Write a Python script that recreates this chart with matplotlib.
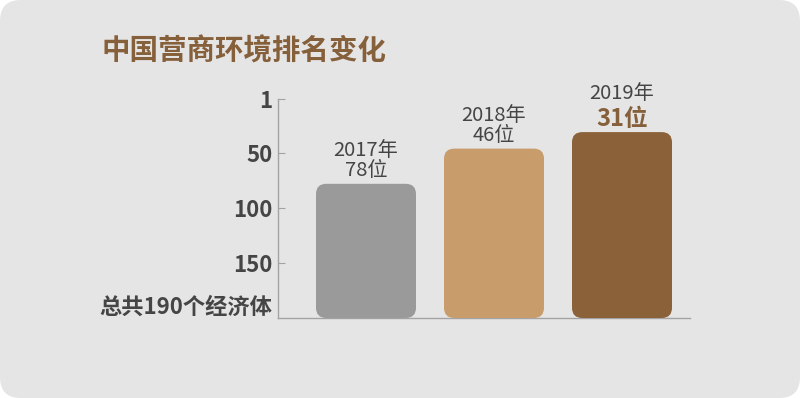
import matplotlib
matplotlib.use("Agg")
import matplotlib.pyplot as plt
from matplotlib.patches import FancyBboxPatch

plt.rcParams['font.family'] = ['Noto Sans CJK SC', 'DejaVu Sans']

# data
years = ["2017年", "2018年", "2019年"]
ranks = [78, 46, 31]
rank_labels = ["78位", "46位", "31位"]
total = 200  # axis bottom (labelled as 190 economies)
yticks = [1, 50, 100, 150]
ytick_labels = ["1", "50", "100", "150"]
bottom_label = "总共190个经济体"
title = "中国营商环境排名变化"

bar_colors = ["#9a9a9a", "#c89c6b", "#8a6138"]
bg = "#e6e5e6"
brown = "#85603a"
text_gray = "#454545"


def draw_bars(ax):
    bar_w = 100 / 128
    # pixels per data unit: x 128, y 1.1
    aspect = (1 / 1.1) / (1 / 128)
    for i, (r, c) in enumerate(zip(ranks, bar_colors)):
        box = FancyBboxPatch((i - bar_w / 2, r), bar_w, total - r,
                             boxstyle="round,pad=0,rounding_size=0.08",
                             mutation_aspect=aspect,
                             facecolor=c, edgecolor="none", zorder=3)
        ax.add_patch(box)


def main():
    fig = plt.figure(figsize=(8, 3.98), dpi=100)
    fig.patch.set_facecolor("white")
    bgbox = FancyBboxPatch((0.0, 0.0), 1.0, 1.0,
                           boxstyle="round,pad=0,rounding_size=0.026",
                           mutation_aspect=800 / 398,
                           transform=fig.transFigure,
                           facecolor=bg, edgecolor="none", zorder=-5)
    fig.patches.append(bgbox)

    ax = fig.add_axes([278 / 800, 80 / 398, 412 / 800, 258 / 398])
    ax.set_facecolor("none")
    ax.set_xlim(-88 / 128, 2 + 68 / 128)
    ax.set_ylim(total, total - 258 / 1.1)

    draw_bars(ax)

    for s in ("top", "right"):
        ax.spines[s].set_visible(False)
    ax.spines["left"].set_bounds(1, total)
    for s in ("left", "bottom"):
        ax.spines[s].set_color("#a3a3a3")
        ax.spines[s].set_linewidth(1.0)

    ax.set_xticks([])
    ax.set_yticks(yticks)
    ax.set_yticklabels(ytick_labels, fontsize=16, fontweight="bold",
                       color=text_gray)
    ax.tick_params(axis="y", direction="in", length=5, width=0.8,
                   color="#a3a3a3", pad=4)

    ax.annotate(bottom_label, xy=(0, total), xycoords=("axes fraction", "data"),
                xytext=(-4, 8), textcoords="offset points",
                ha="right", va="center", fontsize=16, fontweight="bold",
                color=text_gray)

    for i, (yr, r, lab) in enumerate(zip(years, ranks, rank_labels)):
        if i < len(ranks) - 1:
            ax.annotate(yr + "\n" + lab, xy=(i, r), xytext=(0, 2),
                        textcoords="offset points", ha="center", va="bottom",
                        fontsize=14.5, color=text_gray, linespacing=0.95)
        else:
            ax.annotate(lab, xy=(i, r), xytext=(0, 1),
                        textcoords="offset points", ha="center", va="bottom",
                        fontsize=17, fontweight="bold", color=brown)
            ax.annotate(yr, xy=(i, r), xytext=(0, 20),
                        textcoords="offset points", ha="center", va="bottom",
                        fontsize=14.5, color=text_gray)

    fig.text(102 / 800, 1 - 51 / 398, title, ha="left", va="center",
             fontsize=20.5, fontweight="bold", color=brown)

    fig.savefig("out.png", dpi=100, facecolor=fig.get_facecolor())


if __name__ == '__main__':
    main()
